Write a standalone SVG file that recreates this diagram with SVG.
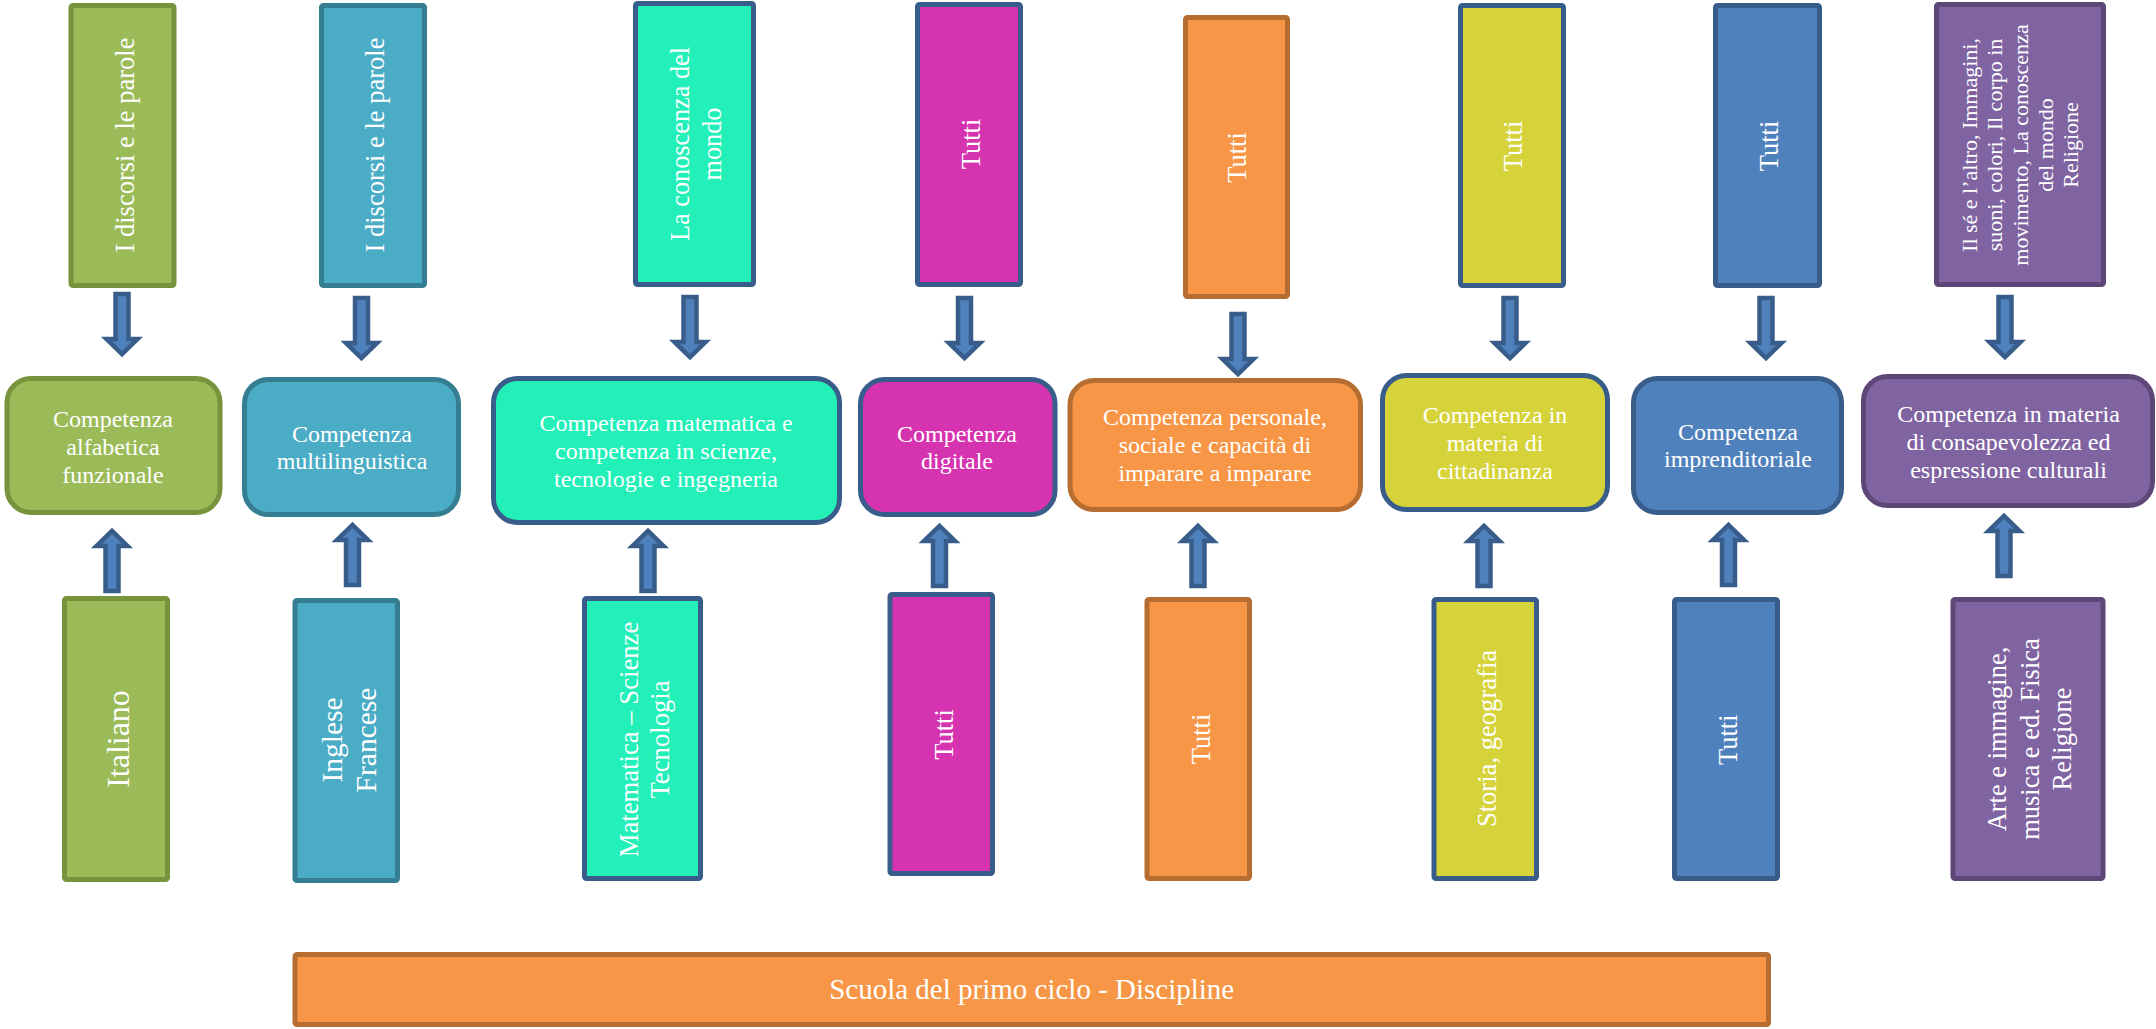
<svg xmlns="http://www.w3.org/2000/svg" width="2156" height="1029" viewBox="0 0 2156 1029">
<style>
text{font-family:"Liberation Serif","Times New Roman",serif;fill:#fff;text-anchor:middle}
.b{stroke-width:5}
.g{fill:#9BBB59;stroke:#77933C}
.t{fill:#4BACC6;stroke:#357D91}
.m{fill:#22F0B8;stroke:#385D8A}
.p{fill:#D633B0;stroke:#385D8A}
.o{fill:#F79646;stroke:#B66D31}
.y{fill:#D6D33A;stroke:#385D8A}
.u{fill:#4F81BD;stroke:#385D8A}
.v{fill:#8064A2;stroke:#5C4776}
.mid{font-size:24px}
.arr{fill:#4F81BD;stroke:#385D8A;stroke-width:4.5;stroke-linejoin:miter}
</style>
<defs>
<path id="dn" d="M-6.5,2 L6.5,2 L6.5,47 L15.5,47 L0,62 L-15.5,47 L-6.5,47 Z"/>
</defs>
<rect width="2156" height="1029" fill="#fff"/>

<g id="top-italiano">
<rect class="b g" x="71" y="5.5" width="103" height="280" rx="2"/>
<text font-size="26.5" transform="translate(134,145) rotate(-90)">I discorsi e le parole</text>
</g>
<g id="top-lingue">
<rect class="b t" x="321.5" y="5.5" width="103" height="280" rx="2"/>
<text font-size="26.5" transform="translate(384,145) rotate(-90)">I discorsi e le parole</text>
</g>
<g id="top-mondo">
<rect class="b m" x="635.5" y="3.5" width="118" height="281" rx="2"/>
<text font-size="26.3" transform="translate(688.5,144) rotate(-90)"><tspan x="0" y="0">La conoscenza del</tspan><tspan x="0" y="32">mondo</tspan></text>
</g>
<g id="top-digitale">
<rect class="b p" x="917.5" y="4.5" width="103" height="280" rx="2"/>
<text font-size="26.5" transform="translate(979.5,144) rotate(-90)">Tutti</text>
</g>
<g id="top-personale">
<rect class="b o" x="1185.5" y="17.5" width="102" height="279" rx="2"/>
<text font-size="26.5" transform="translate(1246,157.5) rotate(-90)">Tutti</text>
</g>
<g id="top-cittadinanza">
<rect class="b y" x="1460.5" y="5.5" width="103" height="280" rx="2"/>
<text font-size="26.5" transform="translate(1522,146) rotate(-90)">Tutti</text>
</g>
<g id="top-imprenditoriale">
<rect class="b u" x="1715.5" y="5.5" width="104" height="280" rx="2"/>
<text font-size="26.5" transform="translate(1778,146) rotate(-90)">Tutti</text>
</g>
<g id="top-culturale">
<rect class="b v" x="1936.5" y="4.5" width="167" height="280" rx="2"/>
<text font-size="22" transform="translate(1977,145) rotate(-90)"><tspan x="0" y="0">Il sé e l’altro, Immagini,</tspan><tspan x="0" y="25.25">suoni, colori, Il corpo in</tspan><tspan x="0" y="50.5">movimento, La conoscenza</tspan><tspan x="0" y="75.75">del mondo</tspan><tspan x="0" y="101">Religione</tspan></text>
</g>

<g id="comp-alfabetica">
<rect class="b g" x="7" y="378.5" width="213" height="134" rx="24"/>
<text class="mid"><tspan x="113" y="427">Competenza</tspan><tspan x="113" y="455">alfabetica</tspan><tspan x="113" y="483">funzionale</tspan></text>
</g>
<g id="comp-multilinguistica">
<rect class="b t" x="244.5" y="379.5" width="214" height="135" rx="24"/>
<text class="mid"><tspan x="352" y="442">Competenza</tspan><tspan x="352" y="469">multilinguistica</tspan></text>
</g>
<g id="comp-matematica">
<rect class="b m" x="493.5" y="378.5" width="346" height="144" rx="24"/>
<text class="mid"><tspan x="666" y="431">Competenza matematica e</tspan><tspan x="666" y="459">competenza in scienze,</tspan><tspan x="666" y="487">tecnologie e ingegneria</tspan></text>
</g>
<g id="comp-digitale">
<rect class="b p" x="860.5" y="379.5" width="194.5" height="135" rx="24"/>
<text class="mid"><tspan x="957" y="442">Competenza</tspan><tspan x="957" y="469">digitale</tspan></text>
</g>
<g id="comp-personale">
<rect class="b o" x="1070" y="380.5" width="290.5" height="129" rx="24"/>
<text class="mid"><tspan x="1215" y="425">Competenza personale,</tspan><tspan x="1215" y="453">sociale e capacità di</tspan><tspan x="1215" y="481">imparare a imparare</tspan></text>
</g>
<g id="comp-cittadinanza">
<rect class="b y" x="1382.5" y="375.5" width="225" height="134" rx="24"/>
<text class="mid"><tspan x="1495" y="423">Competenza in</tspan><tspan x="1495" y="451">materia di</tspan><tspan x="1495" y="479">cittadinanza</tspan></text>
</g>
<g id="comp-imprenditoriale">
<rect class="b u" x="1633.5" y="378.5" width="208" height="134" rx="24"/>
<text class="mid"><tspan x="1738" y="440">Competenza</tspan><tspan x="1738" y="467">imprenditoriale</tspan></text>
</g>
<g id="comp-culturale">
<rect class="b v" x="1863.5" y="376.5" width="289" height="129" rx="24"/>
<text class="mid"><tspan x="2008.5" y="422">Competenza in materia</tspan><tspan x="2008.5" y="450">di consapevolezza ed</tspan><tspan x="2008.5" y="478">espressione culturali</tspan></text>
</g>

<g id="disc-italiano">
<rect class="b g" x="64.5" y="598.5" width="103" height="281" rx="2"/>
<text font-size="32" transform="translate(128.5,739) rotate(-90)">Italiano</text>
</g>
<g id="disc-lingue">
<rect class="b t" x="295" y="600.5" width="102.5" height="280" rx="2"/>
<text font-size="29.5" transform="translate(342,740) rotate(-90)"><tspan x="0" y="0">Inglese</tspan><tspan x="0" y="33.6">Francese</tspan></text>
</g>
<g id="disc-matematica">
<rect class="b m" x="584.5" y="598.5" width="116" height="280" rx="2"/>
<text font-size="26.7" transform="translate(638,739.5) rotate(-90)"><tspan x="0" y="0">Matematica – Scienze</tspan><tspan x="0" y="31">Tecnologia</tspan></text>
</g>
<g id="disc-digitale">
<rect class="b p" x="890" y="594.5" width="102.5" height="279" rx="2"/>
<text font-size="26.5" transform="translate(953,734.5) rotate(-90)">Tutti</text>
</g>
<g id="disc-personale">
<rect class="b o" x="1147" y="599.5" width="102.5" height="279" rx="2"/>
<text font-size="26.5" transform="translate(1210,739) rotate(-90)">Tutti</text>
</g>
<g id="disc-storia">
<rect class="b y" x="1434" y="599.5" width="102.5" height="279" rx="2"/>
<text font-size="26.6" transform="translate(1496,738.5) rotate(-90)">Storia, geografia</text>
</g>
<g id="disc-imprenditoriale">
<rect class="b u" x="1674.5" y="599.5" width="103" height="279" rx="2"/>
<text font-size="26.5" transform="translate(1737,739.7) rotate(-90)">Tutti</text>
</g>
<g id="disc-arte">
<rect class="b v" x="1953" y="599.5" width="150" height="279" rx="2"/>
<text font-size="26.5" transform="translate(2006,739) rotate(-90)"><tspan x="0" y="0">Arte e immagine,</tspan><tspan x="0" y="32.5">musica e ed. Fisica</tspan><tspan x="0" y="65">Religione</tspan></text>
</g>

<g id="scuola">
<rect class="b o" x="295" y="954.5" width="1473.5" height="70" rx="2"/>
<text font-size="29" x="1031.7" y="999">Scuola del primo ciclo - Discipline</text>
</g>

<g id="connectors" class="arr">
<use href="#dn" transform="translate(122,292)"/>
<use href="#dn" transform="translate(361.5,296)"/>
<use href="#dn" transform="translate(690,295)"/>
<use href="#dn" transform="translate(964.5,296)"/>
<use href="#dn" transform="translate(1238,312)"/>
<use href="#dn" transform="translate(1510,296)"/>
<use href="#dn" transform="translate(1766,296)"/>
<use href="#dn" transform="translate(2005,295)"/>
<use href="#dn" transform="translate(112,593) scale(1,-1)"/>
<use href="#dn" transform="translate(352.5,587) scale(1,-1)"/>
<use href="#dn" transform="translate(648,593) scale(1,-1)"/>
<use href="#dn" transform="translate(939.5,588) scale(1,-1)"/>
<use href="#dn" transform="translate(1198,588) scale(1,-1)"/>
<use href="#dn" transform="translate(1484,588) scale(1,-1)"/>
<use href="#dn" transform="translate(1728.5,587) scale(1,-1)"/>
<use href="#dn" transform="translate(2004,578) scale(1,-1)"/>
</g>
</svg>
